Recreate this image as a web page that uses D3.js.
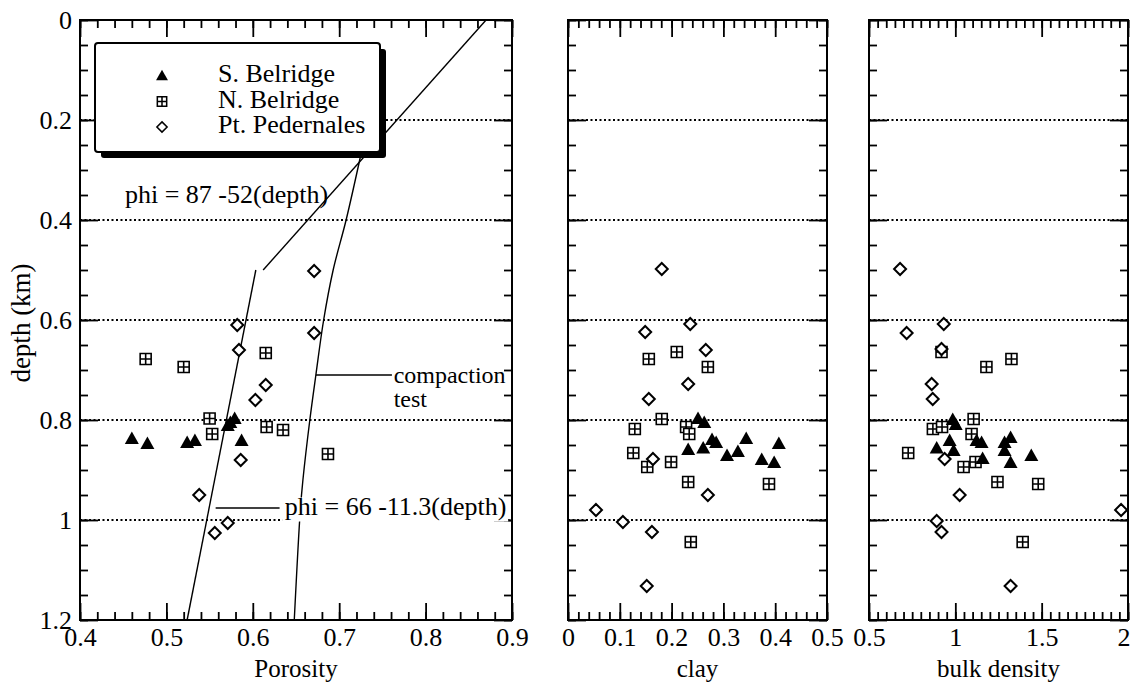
<!DOCTYPE html>
<html>
<head>
<meta charset="utf-8">
<script src="https://cdn.jsdelivr.net/npm/d3@7"></script>
</head>
<body style="margin:0; background:#fff">
<svg id="chart" width="1130" height="686"></svg>
<script>
// tick labels
var depthTicks = [0, 0.2, 0.4, 0.6, 0.8, 1, 1.2];
var gridDepths = [0.2, 0.4, 0.6, 0.8, 1.0];
var porosityTicks = [0.4, 0.5, 0.6, 0.7, 0.8, 0.9];
var clayTicks = [0, 0.1, 0.2, 0.3, 0.4, 0.5];
var densityTicks = [0.5, 1, 1.5, 2];

// [value, depth] pairs
var porosityS = [[0.460,0.838],[0.478,0.848],[0.524,0.846],[0.533,0.842],[0.571,0.812],[0.574,0.806],[0.579,0.798],[0.587,0.842]];
var porosityN = [[0.476,0.678],[0.520,0.694],[0.615,0.666],[0.550,0.797],[0.553,0.828],[0.616,0.814],[0.635,0.820],[0.687,0.868]];
var porosityP = [[0.671,0.502],[0.582,0.610],[0.671,0.626],[0.584,0.660],[0.615,0.730],[0.603,0.760],[0.586,0.880],[0.538,0.950],[0.571,1.006],[0.556,1.026]];

var clayS = [[0.251,0.798],[0.263,0.806],[0.278,0.840],[0.286,0.846],[0.344,0.838],[0.407,0.848],[0.232,0.860],[0.261,0.857],[0.307,0.872],[0.328,0.864],[0.374,0.880],[0.398,0.886]];
var clayN = [[0.156,0.678],[0.210,0.664],[0.270,0.694],[0.181,0.798],[0.129,0.818],[0.228,0.814],[0.234,0.828],[0.126,0.866],[0.153,0.894],[0.199,0.884],[0.232,0.924],[0.388,0.928],[0.237,1.044]];
var clayP = [[0.181,0.498],[0.236,0.608],[0.149,0.624],[0.266,0.660],[0.232,0.728],[0.156,0.758],[0.164,0.878],[0.270,0.950],[0.054,0.980],[0.106,1.004],[0.162,1.024],[0.152,1.132]];

var densityS = [[0.985,0.800],[1.002,0.810],[0.967,0.842],[0.892,0.857],[0.990,0.862],[1.123,0.842],[1.152,0.846],[1.158,0.878],[1.285,0.846],[1.320,0.836],[1.285,0.862],[1.320,0.886],[1.440,0.872]];
var densityN = [[0.920,0.664],[1.180,0.694],[1.325,0.678],[1.106,0.798],[0.870,0.818],[0.923,0.814],[1.094,0.828],[0.727,0.866],[1.048,0.894],[1.117,0.884],[1.244,0.924],[1.480,0.928],[1.390,1.044]];
var densityP = [[0.680,0.498],[0.933,0.608],[0.718,0.626],[0.920,0.658],[0.863,0.728],[0.869,0.758],[0.938,0.878],[1.025,0.950],[1.960,0.980],[0.892,1.002],[0.920,1.024],[1.320,1.132]];

// porosity trend lines and compaction test curve
var phi87Line = [[0.870,0],[0.612,0.5]];
var phi66Line = [[0.6035,0.5],[0.524,1.2]];
var compactionCurve = [[0.725,0.27],[0.708,0.40],[0.693,0.50],[0.682,0.60],[0.673,0.71],[0.666,0.80],[0.658,0.92],[0.655,0.98],[0.648,1.2]];

var FONT = "'Liberation Serif'";
var svg = d3.select("#chart").attr("font-family", "Liberation Serif");
var y = d3.scaleLinear().domain([0, 1.2]).range([20, 620]);

var panels = [
	{ x0: 80, x1: 512, domain: [0.4, 0.9], ticks: porosityTicks, minor: 0.02, title: "Porosity",
		s: porosityS, n: porosityN, p: porosityP },
	{ x0: 568, x1: 827, domain: [0, 0.5], ticks: clayTicks, minor: 0.02, title: "clay",
		s: clayS, n: clayN, p: clayP },
	{ x0: 869, x1: 1128, domain: [0.5, 2], ticks: densityTicks, minor: 0.05, title: "bulk density",
		s: densityS, n: densityN, p: densityP }
];

var fmt = d => String(+d.toFixed(2));

// marker shapes
var triPath = "M0,-7.5L7,5L-7,5Z";
var sqPath = "M-5.5,-5.5H5.5V5.5H-5.5ZM0,-5.5V5.5M-5.5,0H5.5";
var diaPath = "M0,-6L6,0L0,6L-6,0Z";

function drawPanel(p, i) {
	var x = d3.scaleLinear().domain(p.domain).range([p.x0, p.x1]);
	var g = svg.append("g");
	var minorX = d3.range(p.domain[0], p.domain[1] + 1e-9, p.minor);
	var minorY = d3.range(0, 1.2 + 1e-9, 0.05);

	// dotted grid
	g.selectAll("line.grid")
		.data(gridDepths).enter()
		.append("line").attr("class", "grid")
		.attr("x1", p.x0).attr("x2", p.x1)
		.attr("y1", d => y(d)).attr("y2", d => y(d))
		.attr("stroke", "#000").attr("stroke-width", 1.8)
		.attr("stroke-dasharray", "2,2.5");

	// axes with inward ticks
	var axes = [
		[d3.axisBottom(x).tickValues(minorX).tickSize(-8).tickFormat(""), "translate(0,620)"],
		[d3.axisBottom(x).tickValues(p.ticks).tickSize(-17).tickPadding(8).tickFormat(fmt), "translate(0,620)"],
		[d3.axisTop(x).tickValues(minorX).tickSize(-8).tickFormat(""), "translate(0,20)"],
		[d3.axisTop(x).tickValues(p.ticks).tickSize(-17).tickFormat(""), "translate(0,20)"],
		[d3.axisLeft(y).tickValues(minorY).tickSize(-8).tickFormat(""), "translate(" + p.x0 + ",0)"],
		[d3.axisLeft(y).tickValues(depthTicks).tickSize(-18).tickPadding(8).tickFormat(i === 0 ? fmt : ""), "translate(" + p.x0 + ",0)"],
		[d3.axisRight(y).tickValues(minorY).tickSize(-8).tickFormat(""), "translate(" + p.x1 + ",0)"],
		[d3.axisRight(y).tickValues(depthTicks).tickSize(-18).tickFormat(""), "translate(" + p.x1 + ",0)"]
	];
	axes.forEach(a => {
		var ag = g.append("g").attr("transform", a[1]).call(a[0]);
		ag.attr("font-size", 26).attr("font-family", "Liberation Serif");
		ag.select(".domain").remove();
		ag.selectAll(".tick line").attr("stroke", "#000").attr("stroke-width", 1.8);
		ag.selectAll(".tick text").attr("fill", "#000");
	});

	// keep the last density label inside the window
	if (i === 2) {
		g.selectAll(".tick text").filter(d => d === 2).attr("text-anchor", "end").attr("dx", 2);
	}

	// frame
	g.append("rect")
		.attr("x", p.x0).attr("y", 20)
		.attr("width", p.x1 - p.x0).attr("height", 600)
		.attr("fill", "none").attr("stroke", "#000").attr("stroke-width", 2);

	g.append("text")
		.attr("x", (p.x0 + p.x1) / 2).attr("y", 677)
		.attr("text-anchor", "middle").attr("font-size", 25)
		.text(p.title);

	p.x = x;
}

function drawPoints(p) {
	var layer = svg.append("g");
	layer.selectAll("path.n").data(p.n).enter().append("path")
		.attr("d", sqPath)
		.attr("transform", d => "translate(" + p.x(d[0]) + "," + y(d[1]) + ")")
		.attr("fill", "#fff").attr("stroke", "#000").attr("stroke-width", 1.6);
	layer.selectAll("path.p").data(p.p).enter().append("path")
		.attr("d", diaPath)
		.attr("transform", d => "translate(" + p.x(d[0]) + "," + y(d[1]) + ")")
		.attr("fill", "#fff").attr("stroke", "#000").attr("stroke-width", 2);
	layer.selectAll("path.s").data(p.s).enter().append("path")
		.attr("d", triPath)
		.attr("transform", d => "translate(" + p.x(d[0]) + "," + y(d[1]) + ")")
		.attr("fill", "#000");
}

panels.forEach(drawPanel);

// lines in porosity panel
var px = panels[0].x;
var line = d3.line().x(d => px(d[0])).y(d => y(d[1]));
var lineG = svg.append("g").attr("fill", "none").attr("stroke", "#000").attr("stroke-width", 1.4);
lineG.append("path").attr("d", line(phi87Line));
lineG.append("path").attr("d", line(phi66Line));
lineG.append("path").attr("d", line.curve(d3.curveCatmullRom)(compactionCurve));
line.curve(d3.curveLinear);

// annotations
lineG.append("path").attr("d", line([[0.673, 0.71], [0.761, 0.71]]));
svg.append("text").attr("x", px(0.763)).attr("y", y(0.726)).attr("font-size", 24).text("compaction");
svg.append("text").attr("x", px(0.763)).attr("y", y(0.774)).attr("font-size", 24).text("test");

svg.append("rect").attr("x", px(0.634)).attr("y", y(0.955)).attr("width", 226).attr("height", 24).attr("fill", "#fff");
lineG.append("path").attr("d", line([[0.557, 0.976], [0.631, 0.976]]));
svg.append("text").attr("x", px(0.637)).attr("y", y(0.99)).attr("font-size", 26).text("phi = 66 -11.3(depth)");

svg.append("text").attr("x", px(0.452)).attr("y", y(0.366)).attr("font-size", 26).text("phi = 87 -52(depth)");

panels.forEach(drawPoints);

// legend
var leg = svg.append("g");
leg.append("rect").attr("x", 101).attr("y", 49).attr("width", 285).attr("height", 109).attr("rx", 3).attr("fill", "#000");
leg.append("rect").attr("x", 95).attr("y", 43).attr("width", 285).attr("height", 109).attr("rx", 3)
	.attr("fill", "#fff").attr("stroke", "#000").attr("stroke-width", 2);
var legendItems = [
	{ label: "S. Belridge", path: triPath, fill: "#000", stroke: "none" },
	{ label: "N. Belridge", path: sqPath, fill: "#fff", stroke: "#000" },
	{ label: "Pt. Pedernales", path: diaPath, fill: "#fff", stroke: "#000" }
];
var li = leg.selectAll("g.item").data(legendItems).enter().append("g")
	.attr("transform", (d, i) => "translate(0," + (i * 25.5) + ")");
li.append("path").attr("d", d => d.path)
	.attr("transform", "translate(162,76) scale(0.85)")
	.attr("fill", d => d.fill).attr("stroke", d => d.stroke).attr("stroke-width", 1.8);
li.append("text").attr("x", 218).attr("y", 82).attr("font-size", 26).text(d => d.label);

// y title
svg.append("text")
	.attr("transform", "translate(30,323) rotate(-90)")
	.attr("text-anchor", "middle").attr("font-size", 27)
	.text("depth (km)");

// serif everywhere
svg.selectAll("text").style("font-family", FONT).attr("fill", "#000");
</script>
</body>
</html>
